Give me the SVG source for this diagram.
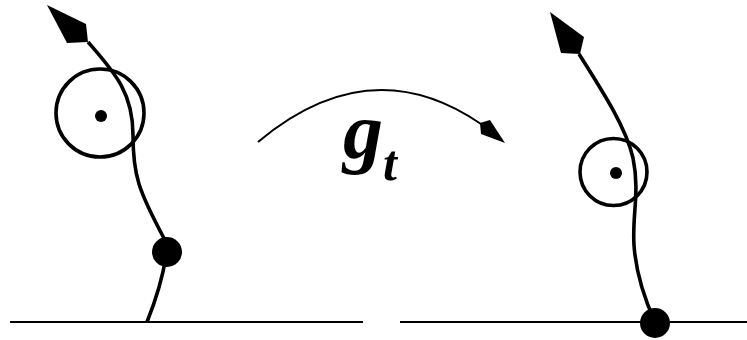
<svg xmlns="http://www.w3.org/2000/svg" width="747" height="340" viewBox="0 0 747 340">
<style>
.ln{fill:none;stroke:#000;stroke-width:3.6;stroke-linecap:butt}
.ring{fill:none;stroke:#000;stroke-width:3.6}
.gnd{fill:none;stroke:#000;stroke-width:2.2}
.arc{fill:none;stroke:#000;stroke-width:2}
.blk{fill:#000;stroke:none}
.lbl{font-family:"Liberation Serif","Times New Roman",serif;font-weight:bold;font-style:italic;fill:#000}
</style>
<rect width="747" height="340" fill="#fff"/>
<g id="ground-left"><line class="gnd" x1="10" y1="322" x2="363" y2="322"/></g>
<g id="ground-right"><line class="gnd" x1="400" y1="322" x2="747" y2="322"/></g>
<g id="connectors">
  <path class="ln" d="M88,42 C114,72 133,92 133,135 C133,175 138,190 166,242"/>
  <path class="ln" d="M166,256 C162,282 155,302 147,322"/>
  <path class="ln" d="M579,54 C605,95 626,128 633,158 C640,192 632,215 634,245 C636,275 645,300 655,322"/>
  <path class="arc" d="M258,142 Q370,48 481,124"/>
</g>
<g id="left-figure">
  <polygon class="blk" points="47,5 86,24 88,42 67,43"/>
  <circle class="ring" cx="100" cy="113" r="44"/>
  <circle class="blk" cx="101" cy="116" r="6"/>
  <circle class="blk" cx="167" cy="252" r="15"/>
</g>
<g id="right-figure">
  <polygon class="blk" points="550,12 584,37 580,54 561,53"/>
  <circle class="ring" cx="613.5" cy="172" r="33.5"/>
  <circle class="blk" cx="616" cy="173" r="6"/>
  <circle class="blk" cx="655" cy="323" r="15"/>
</g>
<g id="arrow-head">
  <polygon class="blk" points="480,123 490,120 505,143 481,134"/>
</g>
<g id="label">
  <text class="lbl" x="343" y="158" font-size="80">g<tspan dy="22" font-size="50">t</tspan></text>
</g>
</svg>
